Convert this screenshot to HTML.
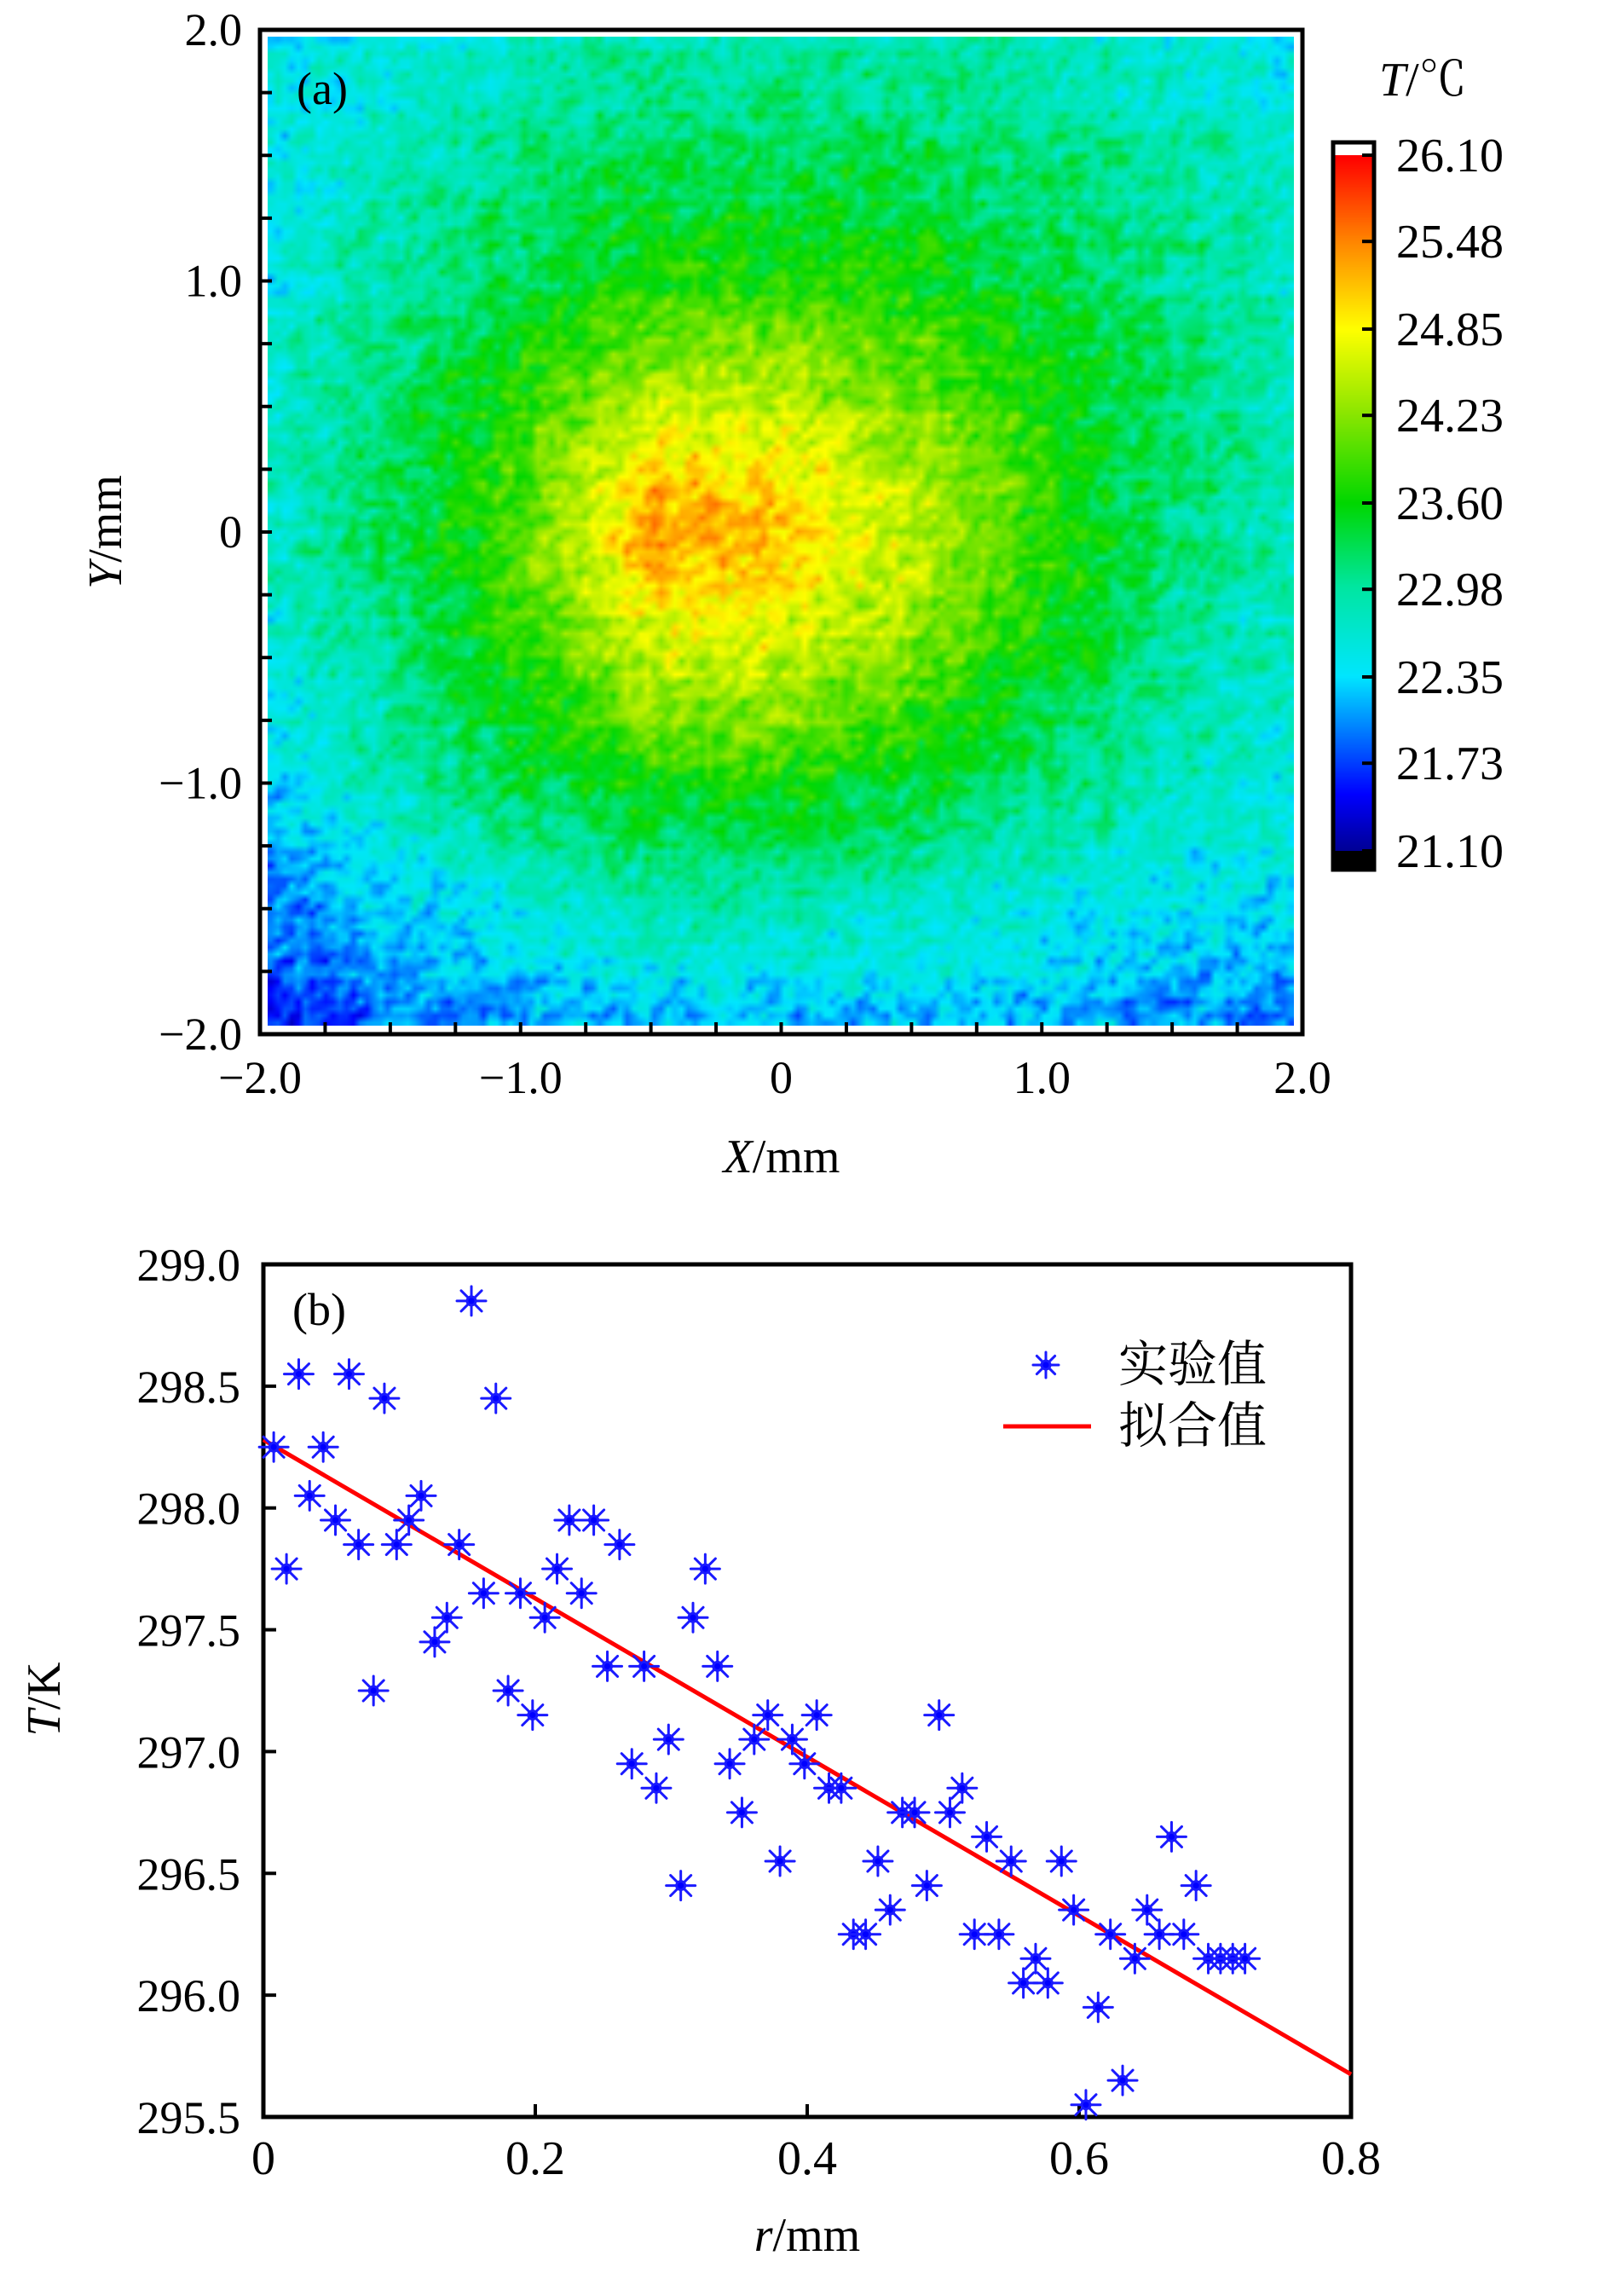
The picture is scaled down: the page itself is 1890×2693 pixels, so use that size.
<!DOCTYPE html>
<html><head><meta charset="utf-8">
<style>
html,body{margin:0;padding:0;background:#fff;}
body{width:1890px;height:2693px;position:relative;overflow:hidden;}
svg{position:absolute;left:0;top:0;}
text{font-family:"Liberation Serif","Noto Serif CJK SC",serif;fill:#000;}
</style></head>
<body>
<canvas id="heat" width="150" height="145" style="position:absolute;left:314px;top:43px;width:1204px;height:1160px;"></canvas>
<canvas id="cbar" width="1" height="400" style="position:absolute;left:1566px;top:182px;width:44px;height:816px;"></canvas>
<svg id="svg" width="1890" height="2693" xmlns="http://www.w3.org/2000/svg"></svg>
<script>
// ---------- Panel (a) data: coarse temperature grid (°C), rows y=2..-2, cols x=-2..2 step 0.5
const gridX = [-2,-1.5,-1,-0.5,0,0.5,1,1.5,2];
const gridY = [2,1.5,1,0.5,0,-0.5,-1,-1.5,-2];
const gridT = [
 [22.4,22.6,22.8,22.9,22.9,22.9,22.8,22.7,22.5],
 [22.5,22.8,23.1,23.3,23.3,23.3,23.1,22.9,22.7],
 [22.6,23.0,23.4,23.7,23.8,23.7,23.4,23.1,22.8],
 [22.7,23.2,23.8,24.6,24.6,24.2,23.7,23.2,22.8],
 [22.7,23.3,24.0,25.4,25.1,24.6,23.8,23.2,22.8],
 [22.6,23.1,23.8,24.6,24.6,24.2,23.6,23.0,22.7],
 [22.4,22.9,23.3,23.7,23.7,23.5,23.2,22.8,22.6],
 [22.0,22.4,22.7,22.9,22.9,22.8,22.6,22.5,22.4],
 [21.6,21.9,22.1,22.2,22.2,22.2,22.2,22.1,22.0]
];
const aXTicks = [-2,-1,0,1,2];
const aXTickLabels = ["\u22122.0","\u22121.0","0","1.0","2.0"];
const aYTicks = [2,1,0,-1,-2];
const aYTickLabels = ["2.0","1.0","0","\u22121.0","\u22122.0"];
const cbTicks = [26.10,25.48,24.85,24.23,23.60,22.98,22.35,21.73,21.10];
const cbLabels = ["26.10","25.48","24.85","24.23","23.60","22.98","22.35","21.73","21.10"];

// ---------- Panel (b) data
const rVals = [0.0076,0.017,0.026,0.034,0.044,0.053,0.063,0.070,0.081,0.089,0.098,0.107,0.116,0.126,0.135,0.144,0.153,0.162,0.171,0.180,0.189,0.198,0.207,0.216,0.225,0.234,0.243,0.253,0.262,0.271,0.280,0.289,0.298,0.307,0.316,0.325,0.334,0.343,0.352,0.361,0.371,0.380,0.389,0.398,0.407,0.416,0.425,0.434,0.443,0.452,0.461,0.470,0.479,0.488,0.497,0.505,0.514,0.523,0.532,0.541,0.550,0.559,0.568,0.577,0.587,0.596,0.605,0.614,0.623,0.632,0.641,0.650,0.659,0.668,0.677,0.686,0.695,0.704,0.713,0.722];
const tVals = [298.25,297.75,298.55,298.05,298.25,297.95,298.55,297.85,297.25,298.45,297.85,297.95,298.05,297.45,297.55,297.85,298.85,297.65,298.45,297.25,297.65,297.15,297.55,297.75,297.95,297.65,297.95,297.35,297.85,296.95,297.35,296.85,297.05,296.45,297.55,297.75,297.35,296.95,296.75,297.05,297.15,296.55,297.05,296.95,297.15,296.85,296.85,296.25,296.25,296.55,296.35,296.75,296.75,296.45,297.15,296.75,296.85,296.25,296.65,296.25,296.55,296.05,296.15,296.05,296.55,296.35,295.55,295.95,296.25,295.65,296.15,296.35,296.25,296.65,296.25,296.45,296.15,296.15,296.15,296.15];
const fitR = [0,0.8];
const fitT = [298.28,295.675];
const bXTicks = [0,0.2,0.4,0.6,0.8];
const bXTickLabels = ["0","0.2","0.4","0.6","0.8"];
const bYTicks = [299,298.5,298,297.5,297,296.5,296,295.5];
const bYTickLabels = ["299.0","298.5","298.0","297.5","297.0","296.5","296.0","295.5"];

const NS="http://www.w3.org/2000/svg";
const svg=document.getElementById('svg');
function mk(tag,attrs,parent){const e=document.createElementNS(NS,tag);for(const k in attrs)e.setAttribute(k,attrs[k]);(parent||svg).appendChild(e);return e;}

function cmap(v){
  let t=(v-21.1)/5; t=Math.max(0,Math.min(1,t));
  const stops=[[0,[0,0,150]],[0.08,[0,0,255]],[0.25,[0,230,255]],[0.38,[0,230,160]],[0.5,[0,215,0]],[0.63,[140,230,0]],[0.75,[255,255,0]],[0.88,[255,130,0]],[1,[255,0,0]]];
  for(let i=1;i<stops.length;i++){if(t<=stops[i][0]){const a=stops[i-1],b=stops[i];const f=(t-a[0])/(b[0]-a[0]);return [0,1,2].map(k=>Math.round(a[1][k]+(b[1][k]-a[1][k])*f));}}
  return [255,0,0];
}
function hash(i,j){let h=Math.sin(i*127.1+j*311.7)*43758.5453;return h-Math.floor(h);}
function gridVal(x,y){
  let cx=(x-gridX[0])/0.5, cy=(gridY[0]-y)/0.5;
  cx=Math.max(0,Math.min(7.999,cx)); cy=Math.max(0,Math.min(7.999,cy));
  const i=Math.floor(cy),j=Math.floor(cx),fx=cx-j,fy=cy-i;
  const a=gridT[i][j],b=gridT[i][j+1],c=gridT[i+1][j],d=gridT[i+1][j+1];
  return a*(1-fx)*(1-fy)+b*fx*(1-fy)+c*(1-fx)*fy+d*fx*fy;
}
(function(){
  const cv=document.getElementById('heat'),ctx=cv.getContext('2d');
  const W=cv.width,H=cv.height,img=ctx.createImageData(W,H);
  for(let i=0;i<H;i++)for(let j=0;j<W;j++){
    const x=-2+4*j/(W-1), y=2-4*i/(H-1);
    const n=(hash(i,j)+hash(i+1,j)+hash(i,j+1))/3-0.5;
    const v=gridVal(x,y)+n*1.1+(hash(i,0)-0.5)*0.15;
    const c=cmap(v),p=(i*W+j)*4;
    img.data[p]=c[0];img.data[p+1]=c[1];img.data[p+2]=c[2];img.data[p+3]=255;
  }
  ctx.putImageData(img,0,0);
  const cb=document.getElementById('cbar'),cx2=cb.getContext('2d');
  for(let i=0;i<400;i++){const c=cmap(26.1-5*i/399);cx2.fillStyle=`rgb(${c[0]},${c[1]},${c[2]})`;cx2.fillRect(0,i,1,1);}
})();

const aL=305,aR=1528,aT=35,aB=1213;
function ax(x){return aL+(x+2)/4*(aR-aL);}
function ay(y){return aT+(2-y)/4*(aB-aT);}
mk('rect',{x:aL,y:aT,width:aR-aL,height:aB-aT,fill:'none',stroke:'#000','stroke-width':5,});
for(let k=-8;k<=8;k++){const v=k*0.25;
  const tx=mk('line',{x1:ax(v),x2:ax(v),y1:aB,y2:aB-14,stroke:'#000','stroke-width':4});
  
  const ty=mk('line',{x1:aL,x2:aL+14,y1:ay(v),y2:ay(v),stroke:'#000','stroke-width':4});
  
}
aXTicks.forEach((v,i)=>{const t=mk('text',{x:ax(v),y:1282,'font-size':54,'text-anchor':'middle'});t.textContent=aXTickLabels[i];
  });
aYTicks.forEach((v,i)=>{const t=mk('text',{x:284,y:ay(v)+18,'font-size':54,'text-anchor':'end'});t.textContent=aYTickLabels[i];
  });
const cbT=182,cbB=998;
function cby(v){return cbT+(26.10-v)/5*(cbB-cbT);}
mk('rect',{x:1562,y:167,width:4,height:853,fill:'#fff'});
mk('rect',{x:1566,y:998,width:44,height:20,fill:'#000',});
mk('rect',{x:1564,y:167,width:48,height:853,fill:'none',stroke:'#000','stroke-width':5,});
cbTicks.forEach((v,i)=>{
  const l=mk('line',{x1:1598,x2:1612,y1:cby(v),y2:cby(v),stroke:'#000','stroke-width':4});
  
  const t=mk('text',{x:1638,y:cby(v)+19,'font-size':56});t.textContent=cbLabels[i];
  
});
</script>
<svg width="1890" height="2693" xmlns="http://www.w3.org/2000/svg" style="position:absolute;left:0;top:0">
<text x="348" y="122" font-size="54" style="font-family:'Liberation Serif',serif">(a)</text>
<text x="1618" y="112" font-size="56" style="font-family:'Liberation Serif','Noto Serif CJK SC',serif"><tspan font-style="italic">T</tspan>/℃</text>
<text transform="translate(142,624) rotate(-90)" font-size="56" text-anchor="middle" style="font-family:'Liberation Serif',serif"><tspan font-style="italic">Y</tspan>/mm</text>
<text x="917" y="1375" font-size="56" text-anchor="middle" style="font-family:'Liberation Serif',serif"><tspan font-style="italic">X</tspan>/mm</text>
<text x="343" y="1554" font-size="54" style="font-family:'Liberation Serif',serif">(b)</text>
<text transform="translate(70,1993) rotate(-90)" font-size="56" text-anchor="middle" style="font-family:'Liberation Serif',serif"><tspan font-style="italic">T</tspan>/K</text>
<text x="947" y="2640" font-size="56" text-anchor="middle" style="font-family:'Liberation Serif',serif"><tspan font-style="italic">r</tspan>/mm</text>
<text x="1312" y="1620" font-size="58" style="font-family:'Liberation Serif','Noto Serif CJK SC',serif">实验值</text>
<text x="1312" y="1692" font-size="58" style="font-family:'Liberation Serif','Noto Serif CJK SC',serif">拟合值</text>
<line x1="1177" y1="1673" x2="1280" y2="1673" stroke="#f00" stroke-width="5"/>
</svg>
<script>
const bL=309,bR=1585,bT=1483,bB=2483;
function bx(r){return bL+r/0.8*(bR-bL);}
function by(t){return bT+(299-t)/3.5*(bB-bT);}
const svgB=document.querySelectorAll('svg')[1];
function mkB(tag,attrs){const e=document.createElementNS(NS,tag);for(const k in attrs)e.setAttribute(k,attrs[k]);svgB.appendChild(e);return e;}
mkB('rect',{x:bL,y:bT,width:bR-bL,height:bB-bT,fill:'none',stroke:'#000','stroke-width':5,});
bYTicks.forEach((v,i)=>{
  const l=mkB('line',{x1:bL,x2:bL+15,y1:by(v),y2:by(v),stroke:'#000','stroke-width':4});
  
  const t=mkB('text',{x:282,y:by(v)+19,'font-size':54});t.setAttribute('text-anchor','end');t.textContent=bYTickLabels[i];
  
});
bXTicks.forEach((v,i)=>{
  const l=mkB('line',{x1:bx(v),x2:bx(v),y1:bB,y2:bB-15,stroke:'#000','stroke-width':4});
  
  const t=mkB('text',{x:bx(v),y:2550,'font-size':56,'text-anchor':'middle'});t.textContent=bXTickLabels[i];
  
});
function star(cx,cy,r){
  const g=mkB('g',{stroke:'#1a1aff','stroke-width':3,'stroke-linecap':'round'});
  for(let k=0;k<4;k++){const a=k*Math.PI/4;
    const l=document.createElementNS(NS,'line');
    l.setAttribute('x1',cx-r*Math.cos(a));l.setAttribute('y1',cy-r*Math.sin(a));l.setAttribute('x2',cx+r*Math.cos(a));l.setAttribute('y2',cy+r*Math.sin(a));
    g.appendChild(l);}
  const c=document.createElementNS(NS,'circle');c.setAttribute('cx',cx);c.setAttribute('cy',cy);c.setAttribute('r',5);c.setAttribute('fill','#0000ff');g.appendChild(c);
  return g;
}
const fit=mkB('line',{x1:bx(fitR[0]),y1:by(fitT[0]),x2:bx(fitR[1]),y2:by(fitT[1]),stroke:'#f00','stroke-width':5});

rVals.forEach((r,i)=>{
  const g=star(bx(r),by(tVals[i]),17);
  
  
});
const lg=star(1227,1601,15);


</script>
</body></html>
